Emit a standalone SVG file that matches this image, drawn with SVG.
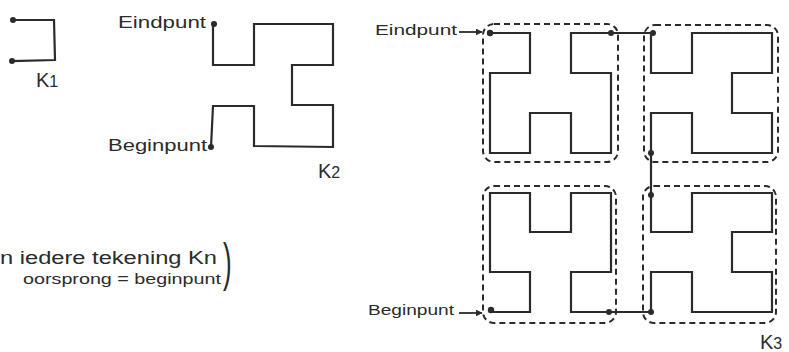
<svg xmlns="http://www.w3.org/2000/svg" width="789" height="352" viewBox="0 0 789 352">
<style>
.curve{fill:none;stroke:#2b2b2b;stroke-width:2.2;stroke-linejoin:miter;stroke-linecap:square}
.box{fill:none;stroke:#2b2b2b;stroke-width:2;stroke-dasharray:6,4}
.dot{fill:#2b2b2b}
.lbl{font-family:"Liberation Sans","DejaVu Sans",sans-serif;fill:#2b2b2b}
.arr{stroke:#2b2b2b;stroke-width:1.8;fill:none}
</style>
<defs>
<marker id="ah" viewBox="0 0 10 10" refX="9" refY="5" markerWidth="7" markerHeight="7" orient="auto" markerUnits="userSpaceOnUse">
<path d="M0,0 L10,5 L0,10 z" fill="#2b2b2b"/>
</marker>
</defs>
<rect width="789" height="352" fill="#ffffff"/>

<g id="k1">
<polyline class="curve" points="13,20 54,20 55,60 12,61"/>
<circle class="dot" cx="13" cy="20" r="3"/>
<circle class="dot" cx="12" cy="61" r="3"/>
<text class="lbl" x="36" y="87" font-size="20">K<tspan font-size="16">1</tspan></text>
</g>

<g id="k2">
<polyline class="curve" points="213,24 213,65 254,65 254,24 333,24 333,65 292,65 292,105 333,105 333,147 254,146 254,106 213,106 211,147"/>
<circle class="dot" cx="214" cy="24" r="3"/>
<circle class="dot" cx="211" cy="147" r="3"/>
<text class="lbl" x="118" y="28" font-size="16" textLength="88" lengthAdjust="spacingAndGlyphs">Eindpunt</text>
<text class="lbl" x="108" y="151" font-size="16" textLength="99" lengthAdjust="spacingAndGlyphs">Beginpunt</text>
<text class="lbl" x="318" y="178" font-size="20">K<tspan font-size="16">2</tspan></text>
</g>

<g id="note">
<text class="lbl" x="0" y="264" font-size="18" textLength="217" lengthAdjust="spacingAndGlyphs">n iedere tekening Kn</text>
<text class="lbl" x="23" y="284" font-size="15" textLength="198" lengthAdjust="spacingAndGlyphs">oorsprong = beginpunt</text>
<text class="lbl" transform="translate(223,280) scale(1,2)" x="0" y="0" font-size="26">)</text>
</g>

<g id="k3">
<g id="k3-boxes">
<rect class="box" x="483" y="24" width="135" height="138" rx="11"/>
<rect class="box" x="644" y="25" width="134" height="137" rx="11"/>
<rect class="box" x="483" y="186" width="133" height="137" rx="11"/>
<rect class="box" x="643" y="186" width="133" height="137" rx="11"/>
</g>
<polyline class="curve" points="490,312 530,312 530,272 490,272 490,193 530,193 530,232 571,232 571,193 611,193 611,272 571,272 571,312 611,312 651,312 651,272 692,272 692,312 772,312 772,272 732,272 732,232 772,232 772,193 692,193 692,232 651,232 651,193 651,153 651,113 692,113 692,153 772,153 772,113 732,113 732,73 772,73 772,33 692,33 692,73 651,73 651,33 611,33 571,33 571,73 611,73 611,153 571,153 571,113 530,113 530,153 490,153 490,73 530,73 530,33 490,33"/>
<circle class="dot" cx="490" cy="33" r="3.2"/>
<circle class="dot" cx="611" cy="33" r="3"/>
<circle class="dot" cx="653" cy="33" r="3"/>
<circle class="dot" cx="651" cy="153" r="3"/>
<circle class="dot" cx="651" cy="195" r="3"/>
<circle class="dot" cx="651" cy="312" r="3"/>
<circle class="dot" cx="609" cy="312" r="3"/>
<circle class="dot" cx="491" cy="310" r="3.2"/>
<text class="lbl" x="375" y="35" font-size="15" textLength="82" lengthAdjust="spacingAndGlyphs">Eindpunt</text>
<text class="lbl" x="368" y="315" font-size="15" textLength="86" lengthAdjust="spacingAndGlyphs">Beginpunt</text>
<text class="lbl" x="760" y="349" font-size="20">K<tspan font-size="16">3</tspan></text>
</g>

<g id="connectors">
<line class="arr" x1="459" y1="32" x2="482" y2="32" marker-end="url(#ah)"/>
<line class="arr" x1="459" y1="313" x2="482" y2="313" marker-end="url(#ah)"/>
</g>
</svg>
